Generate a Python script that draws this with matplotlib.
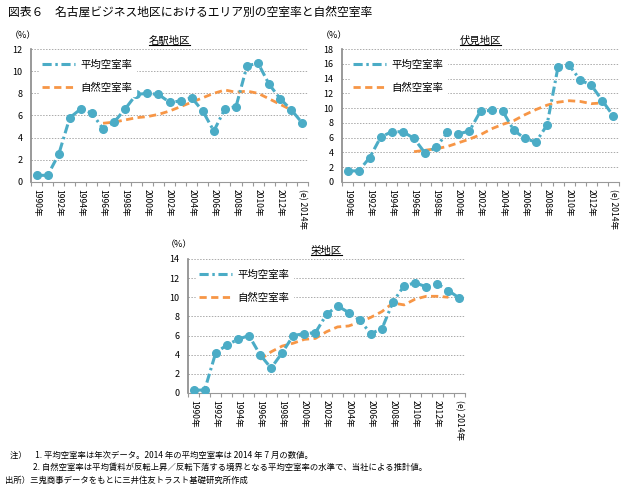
import matplotlib
matplotlib.use("Agg")
import matplotlib.pyplot as plt
from matplotlib.lines import Line2D

plt.rcParams['font.family'] = ['Noto Sans CJK JP', 'DejaVu Sans']

years = list(range(1990, 2015))
tick_labels = [f"{y}年" if y < 2014 else "(e) 2014年" for y in years]

mei_avg = [0.6, 0.6, 2.5, 5.8, 6.6, 6.2, 4.8, 5.4, 6.6, 7.9, 8.0, 7.9, 7.2,
           7.3, 7.6, 6.4, 4.6, 6.6, 6.8, 10.5, 10.7, 8.8, 7.5, 6.5, 5.3]
mei_nat = [None] * 6 + [5.3, 5.4, 5.6, 5.8, 5.9, 6.1, 6.4, 6.8, 7.2, 7.6,
                        8.0, 8.3, 8.1, 8.2, 8.0, 7.5, 7.0, 6.5]

fus_avg = [1.5, 1.5, 3.3, 6.1, 6.8, 6.8, 5.9, 3.9, 4.7, 6.7, 6.5, 6.9, 9.6,
           9.7, 9.6, 7.0, 5.9, 5.4, 7.7, 15.6, 15.8, 13.8, 13.1, 11.0, 8.9]
fus_nat = [None] * 6 + [4.1, 4.3, 4.5, 4.8, 5.3, 5.8, 6.4, 7.2, 7.8, 8.3,
                        9.1, 9.8, 10.4, 10.8, 11.0, 10.9, 10.6, 10.7]

sak_avg = [0.3, 0.3, 4.2, 5.0, 5.6, 6.0, 4.0, 2.6, 4.2, 6.0, 6.2, 6.3, 8.2,
           9.1, 8.4, 7.6, 6.2, 6.7, 9.5, 11.2, 11.5, 11.1, 11.4, 10.7, 9.9]
sak_nat = [None] * 6 + [3.5, 4.3, 4.9, 5.2, 5.6, 5.7, 6.4, 6.9, 7.0, 7.4,
                        7.9, 8.5, 9.4, 9.2, 9.8, 10.1, 10.1, 10.0]

BLUE = "#4BACC6"
ORANGE = "#F79646"
BLUE_DASH = (0, (3, 1.2, 0.8, 1.2))
ORANGE_DASH = (0, (2.6, 1.6))

fig = plt.figure(figsize=(6.33, 4.94), dpi=100)


def panel(rect, avg, nat, ymax, title, pct_xy):
    ax = fig.add_axes(rect)
    x = list(range(len(years)))
    nx = [i for i, v in enumerate(nat) if v is not None]
    nv = [v for v in nat if v is not None]
    ax.plot(nx, nv, color=ORANGE, lw=2.0, ls=ORANGE_DASH, zorder=3)
    ax.plot(x, avg, color=BLUE, lw=2.2, ls=BLUE_DASH, marker='o',
            ms=5.5, mec=BLUE, mfc=BLUE, zorder=4)
    ax.set_xlim(-0.5, len(years) - 0.5)
    ax.set_ylim(0, ymax)
    ax.set_yticks(range(0, ymax + 1, 2))
    ax.tick_params(axis='y', length=0, labelsize=6.5, pad=6)
    ax.set_xticks([i - 0.5 for i in range(len(years) + 1)])
    ax.set_xticklabels([])
    ax.set_xticks(range(0, len(years), 2), minor=True)
    ax.set_xticklabels([tick_labels[i] for i in range(0, len(years), 2)],
                       minor=True, rotation=-90, fontsize=6.2)
    ax.tick_params(axis='x', which='major', length=3, color='#999999', direction='out')
    ax.tick_params(axis='x', which='minor', length=0, pad=5)
    ax.grid(axis='y', color='#AAAAAA', ls=(0, (1.5, 1.5)), lw=0.7)
    ax.set_axisbelow(True)
    for s in ['top', 'right']:
        ax.spines[s].set_visible(False)
    ax.spines['left'].set_color('#888888')
    ax.spines['left'].set_linewidth(1.2)
    ax.spines['bottom'].set_color('#999999')
    ax.spines['bottom'].set_linewidth(0.8)
    h_avg = Line2D([], [], color=BLUE, lw=2.2, ls=BLUE_DASH)
    h_nat = Line2D([], [], color=ORANGE, lw=2.0, ls=ORANGE_DASH)
    leg = ax.legend([h_avg, h_nat], ["平均空室率", "自然空室率"], loc='upper left',
                    bbox_to_anchor=(0.01, 0.98), frameon=True, fontsize=7.5,
                    handlelength=3.2, labelspacing=1.2, borderpad=0.3,
                    handletextpad=0.5)
    leg.get_frame().set_edgecolor('white')
    leg.get_frame().set_facecolor('white')
    leg.get_frame().set_alpha(1)
    t = ax.text(0.5, 1.06, title, transform=ax.transAxes, ha='center',
                va='center', fontsize=7.5, zorder=5)
    t.set_bbox(dict(facecolor='white', edgecolor='none', pad=1.5))
    fig.canvas.draw()
    bb = t.get_window_extent()
    inv = fig.transFigure.inverted()
    (x0, y0), (x1, y1) = inv.transform([(bb.x0, bb.y0 + 1), (bb.x1, bb.y0 + 1)])
    fig.add_artist(Line2D([x0, x1], [y0, y1], color='black', lw=0.8,
                          transform=fig.transFigure))
    fig.text(pct_xy[0], pct_xy[1], "（%）", fontsize=6.5, ha='left', va='center')
    return ax


panel([0.049, 0.6316, 0.4376, 0.2692], mei_avg, mei_nat, 12, "名駅地区",
      (0.016, 1 - 36 / 494))
panel([0.5403, 0.6316, 0.4376, 0.2692], fus_avg, fus_nat, 18, "伏見地区",
      (0.507, 1 - 36 / 494))
panel([0.297, 0.2045, 0.4376, 0.2713], sak_avg, sak_nat, 14, "栄地区",
      (0.262, 1 - 245 / 494))

fig.text(0.012, 1 - 12 / 494, "図表６　名古屋ビジネス地区におけるエリア別の空室率と自然空室率",
         fontsize=8.5, ha='left', va='center')
fig.text(0.016, 1 - 455 / 494,
         "注）　1. 平均空室率は年次データ。2014 年の平均空室率は 2014 年 7 月の数値。",
         fontsize=6, ha='left', va='center')
fig.text(0.052, 1 - 467 / 494,
         "2. 自然空室率は平均賃料が反転上昇／反転下落する境界となる平均空室率の水準で、当社による推計値。",
         fontsize=6, ha='left', va='center')
fig.text(0.008, 1 - 480 / 494,
         "出所）三鬼商事データをもとに三井住友トラスト基礎研究所作成",
         fontsize=6, ha='left', va='center')

fig.savefig("out.png", dpi=100)
